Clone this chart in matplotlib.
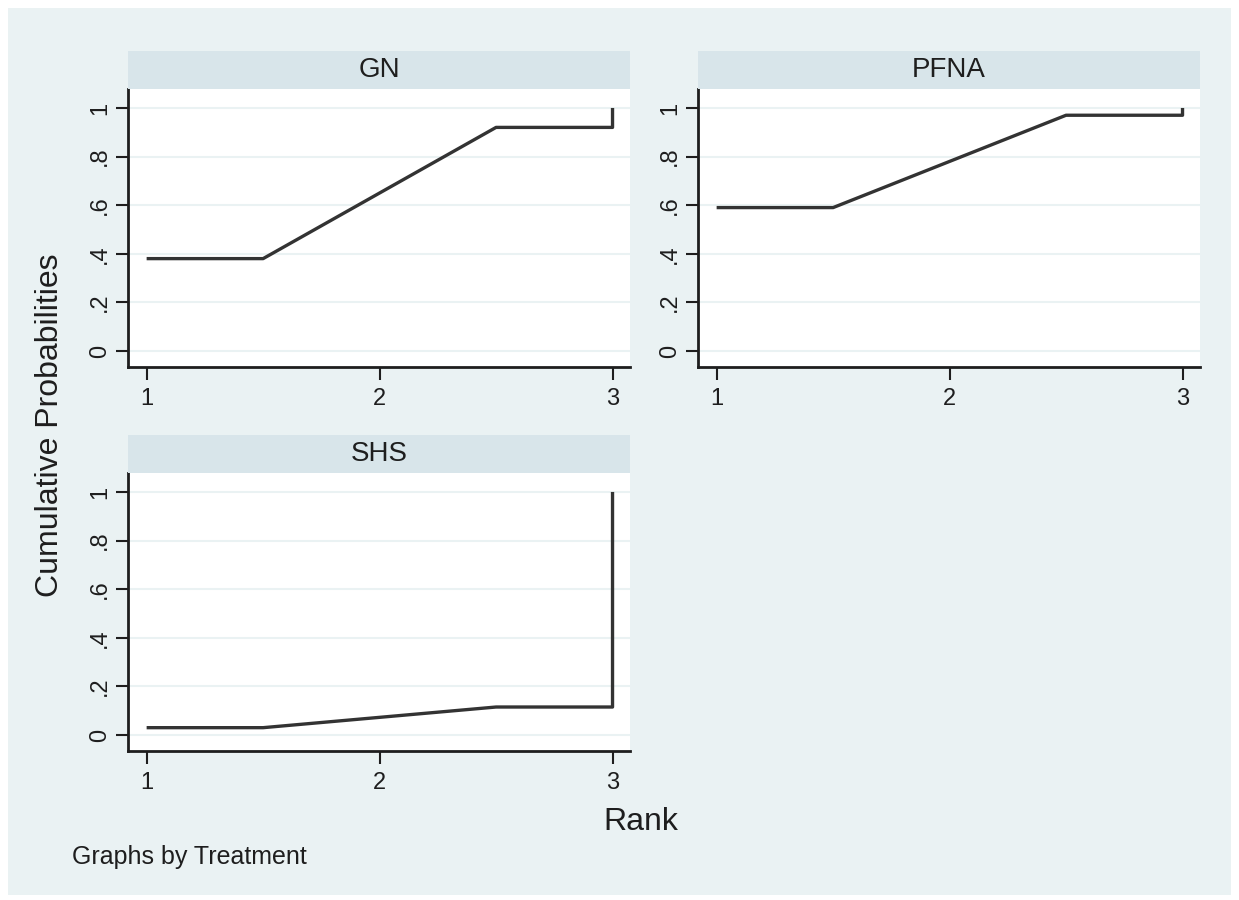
import numpy as np
import matplotlib.pyplot as plt
from matplotlib.patches import Rectangle

plt.rcParams['font.family'] = ['Liberation Sans', 'DejaVu Sans']

# cumulative ranking probabilities
ranks = [1, 2, 3]
gn_cum = [0.38, 0.92, 1.0]
pfna_cum = [0.59, 0.97, 1.0]
shs_cum = [0.03, 0.115, 1.0]
treatments = ['GN', 'PFNA', 'SHS']
yticks = [0, 0.2, 0.4, 0.6, 0.8, 1]
ytick_labels = ['0', '.2', '.4', '.6', '.8', '1']

W, H = 1239, 900
BG = '#eaf2f3'
STRIP = '#d8e5ea'
LINE = '#333333'
TXT = '#1e1e1e'


def rect(left, top, right, bottom):
    return [left / W, 1 - bottom / H, (right - left) / W, (bottom - top) / H]


def rank_path(cum):
    # flat on the first half-rank, straight between midpoints, then jump to the last value
    mids = [(a + b) / 2 for a, b in zip(ranks[:-1], ranks[1:])]
    xs = [ranks[0], mids[0], mids[1], ranks[-1], ranks[-1]]
    ys = [cum[0], cum[0], cum[1], cum[1], cum[2]]
    return xs, ys


fig = plt.figure(figsize=(W / 100, H / 100), dpi=100)
fig.patch.set_facecolor('white')
fig.add_artist(Rectangle((8 / W, 1 - 895 / H), (1231 - 8) / W, (895 - 8) / H,
                         transform=fig.transFigure, facecolor=BG, edgecolor='none', zorder=-1))

panels = [(128, 89, 630, 367), (698, 89, 1200, 367), (128, 473, 630, 751)]
data = [gn_cum, pfna_cum, shs_cum]

for name, (l, t, r, b), cum in zip(treatments, panels, data):
    ax = fig.add_axes(rect(l, t, r, b))
    ax.set_facecolor('white')
    for y in yticks:
        ax.axhline(y, color=BG, lw=1.5, zorder=0)
    xs, ys = rank_path(cum)
    ax.plot(xs, ys, color=LINE, lw=2.4, solid_joinstyle='round', solid_capstyle='butt')
    ax.set_xlim(0.92, 3.075)
    ax.set_ylim(-0.066, 1.078)
    ax.set_xticks(ranks)
    ax.set_yticks(yticks)
    ax.set_yticklabels(ytick_labels, va='center')
    ax.tick_params(axis='y', labelrotation=90, length=9, width=1.5, pad=3,
                   labelsize=17, colors=TXT)
    ax.tick_params(axis='x', length=9, width=1.5, pad=6, labelsize=17, colors=TXT)
    for s in ['top', 'right']:
        ax.spines[s].set_visible(False)
    for s in ['left', 'bottom']:
        ax.spines[s].set_linewidth(2)
        ax.spines[s].set_color(TXT)

    sax = fig.add_axes(rect(l, t - 38, r, t))
    sax.set_facecolor(STRIP)
    sax.set_xticks([])
    sax.set_yticks([])
    for s in sax.spines.values():
        s.set_visible(False)
    sax.text(0.5, 0.5, name, ha='center', va='center', fontsize=20, color=TXT,
             transform=sax.transAxes)

fig.text(50 / W, 1 - 425 / H, 'Cumulative Probabilities', rotation=90,
         ha='center', va='center', fontsize=23, color=TXT)
fig.text(641 / W, 1 - 822 / H, 'Rank', ha='center', va='center', fontsize=23, color=TXT)
fig.text(72 / W, 1 - 857 / H, 'Graphs by Treatment', ha='left', va='center',
         fontsize=18, color=TXT)

fig.savefig('out.png', dpi=100)
